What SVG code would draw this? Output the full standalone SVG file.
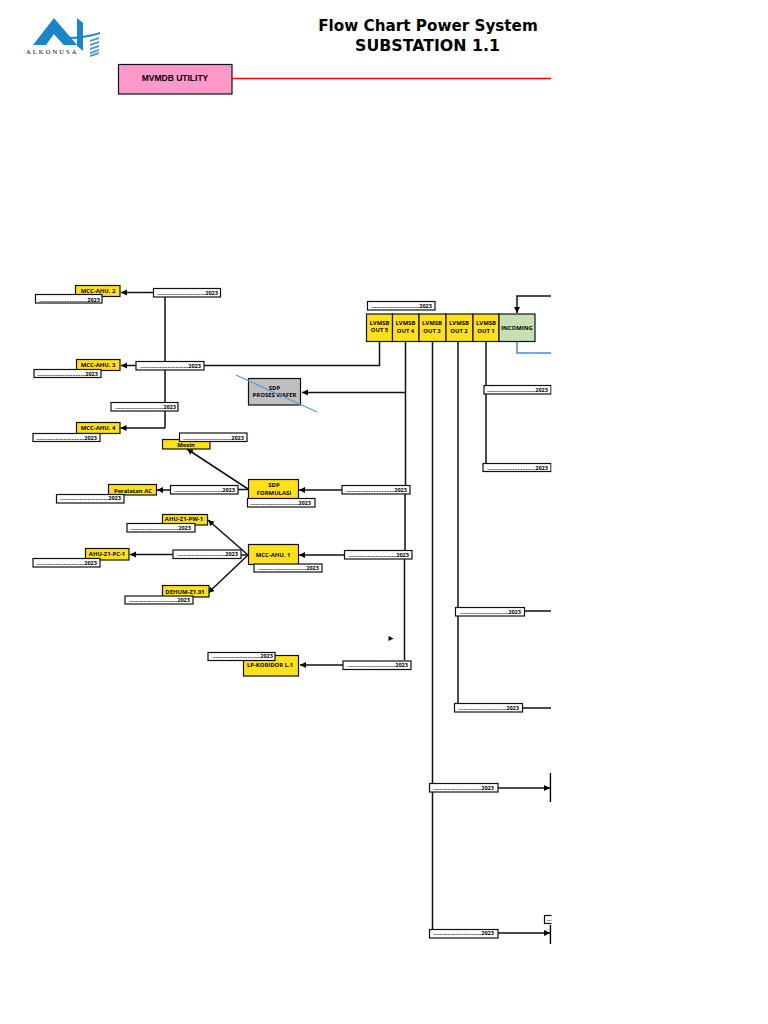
<svg xmlns="http://www.w3.org/2000/svg" width="768" height="1024" viewBox="0 0 768 1024">
<style>
.y{fill:#ffe01b;stroke:#111;stroke-width:1.200}
.d{fill:#fff;stroke:#111;stroke-width:1.200}
text{font-family:"Open Sans","Liberation Sans",sans-serif;font-weight:700;fill:#000}
.n{font-size:5.900px;text-anchor:middle}
.t{font-size:5.600px;text-anchor:end}
.c path{fill:none;stroke:#111;stroke-width:1.500}
.c path.a{marker-end:url(#ah)}
</style>
<defs>
<marker id="ah" markerUnits="userSpaceOnUse" markerWidth="7" markerHeight="7" refX="6" refY="3" orient="auto"><path d="M0 0L6 3L0 6Z" fill="#000"/></marker>
</defs>
<rect width="768" height="1024" fill="#fff"/>
<g id="logo">
<path d="M33 45L54 18L77 45L64 45L54 34L46 45Z" fill="#1b86c7"/>
<path d="M54 34L58 30L77 45L64 45Z" fill="#1b86c7"/>
<path d="M77 18L83 23L83 51L77 46Z" fill="#1b86c7"/>
<path d="M66 37Q85 37 100 32L100 34Q85 39 66 39Z" fill="#1b86c7"/>
<path d="M90 40L99 37V39L90 42Z M90 44L99 41V43L90 46Z M90 48L99 45V47L90 50Z M90 52L99 49V51L90 54Z M90 55L99 52V54L90 57Z" fill="#4b9bd0"/>
<text x="26" y="54" style="font-family:'Liberation Serif',serif;font-weight:400;font-size:6.500px;letter-spacing:2.100px">ALKONUSA</text>
</g>
<g id="title">
<text x="428" y="31" text-anchor="middle" style="font-family:'DejaVu Sans',sans-serif;font-size:15.200px">Flow Chart Power System</text>
<text x="427.500" y="51" text-anchor="middle" style="font-family:'DejaVu Sans',sans-serif;font-size:15.800px">SUBSTATION 1.1</text>
</g>
<g class="c" id="connectors">
<path d="M232 78.500H551" style="stroke:#f00"/>
<path d="M153 292.500H121" class="a"/>
<path d="M165 297V361M165 370V402M165 411V428"/>
<path d="M165 428H120.500" class="a"/>
<path d="M136 365.500H121" class="a"/>
<path d="M204 365.500H379.500V342"/>
<path d="M405.500 342V485M405 494V550M404.500 559V660"/>
<path d="M405 392.500H302" class="a"/>
<path d="M342 490H299" class="a"/>
<path d="M344 555H299" class="a"/>
<path d="M343 665H300" class="a"/>
<path d="M248 489.500H238M170 490H157" class="a"/>
<path d="M248 489L187 449" class="a"/>
<path d="M248 555L208 520" class="a"/>
<path d="M248 555L208 593" class="a"/>
<path d="M248 555H241M173 554.500H130" class="a"/>
<path d="M432.500 342V783M432.500 792V929"/>
<path d="M458 342V607M458 616V703"/>
<path d="M486 342V385M486 394V463"/>
<path d="M525 611H551M522 708H551"/>
<path d="M498 788H550" class="a"/>
<path d="M498 933H550" class="a"/>
<path d="M551 296H517V313" class="a"/>
<path d="M517 342V353H551" style="stroke:#4f86d8;stroke-width:1.500"/>
<path d="M550.500 773V802M550.500 925V944" style="stroke:#000"/>
</g>
<g id="mvmdb"><rect x="118.500" y="64.500" width="113.500" height="29.500" fill="#ff99cc" stroke="#111" stroke-width="1.200"/><text x="175" y="81" text-anchor="middle" style="font-family:'Liberation Sans',sans-serif;font-size:8.500px">MVMDB UTILITY</text></g>
<g id="mcc-ahu-2"><rect class="y" x="75.500" y="285.500" width="44.500" height="11"/><text class="n" x="98" y="292.500">MCC-AHU. 2</text></g>
<g id="mcc-ahu-3"><rect class="y" x="76.500" y="359.500" width="43.500" height="11"/><text class="n" x="98" y="366.500">MCC-AHU. 3</text></g>
<g id="mcc-ahu-4"><rect class="y" x="76.500" y="422.500" width="43.500" height="11"/><text class="n" x="98" y="429.500">MCC-AHU. 4</text></g>
<g id="mesin"><rect class="y" x="162.500" y="439.500" width="47.500" height="9.500"/><text class="n" x="186" y="446.500">Mesin</text></g>
<g id="peralatan-ac"><rect class="y" x="108.500" y="484.500" width="48" height="10.500"/><text class="n" x="133" y="492.500">Peralatan AC</text></g>
<g id="sdp-proses"><rect x="248.500" y="378.500" width="52" height="26.500" fill="#bfbfbf" stroke="#111" stroke-width="1.200"/><text class="n" x="274.500" y="389.500">SDP</text><text class="n" x="274.500" y="397">PROSES WAFER</text></g>
<g id="sdp-formulasi"><rect class="y" x="248.500" y="479.500" width="50" height="20"/><text class="n" x="274" y="487">SDP</text><text class="n" x="274" y="495">FORMULASI</text></g>
<g id="mcc-ahu-1"><rect class="y" x="248.500" y="544.500" width="50" height="20"/><text class="n" x="273" y="556.500">MCC-AHU. 1</text></g>
<g id="ahu-pw"><rect class="y" x="162.500" y="514.500" width="45" height="10.500"/><text class="n" x="184" y="521">AHU-Z1-PW-1</text></g>
<g id="ahu-pc"><rect class="y" x="85.500" y="548.500" width="43.500" height="11.500"/><text class="n" x="107" y="556">AHU-Z1-PC-1</text></g>
<g id="dehum"><rect class="y" x="162.500" y="585.500" width="46.500" height="11.500"/><text class="n" x="185" y="593.500">DEHUM-Z1.01</text></g>
<g id="lp-koridor"><rect class="y" x="243.500" y="655.500" width="55" height="20.500"/><text class="n" x="270" y="666.500">LP-KORIDOR L.1</text></g>
<g id="lvmsb-5"><rect class="y" x="366.500" y="314" width="26" height="27.500"/><text class="n" x="379.500" y="325">LVMSB</text><text class="n" x="379.500" y="332">OUT 5</text></g>
<g id="lvmsb-4"><rect class="y" x="392.500" y="314" width="26.500" height="27.500"/><text class="n" x="405.500" y="325">LVMSB</text><text class="n" x="405.500" y="333">OUT 4</text></g>
<g id="lvmsb-3"><rect class="y" x="419" y="314" width="27" height="27.500"/><text class="n" x="432" y="325">LVMSB</text><text class="n" x="432" y="333">OUT 3</text></g>
<g id="lvmsb-2"><rect class="y" x="446" y="314" width="27" height="27.500"/><text class="n" x="459" y="325">LVMSB</text><text class="n" x="459" y="333">OUT 2</text></g>
<g id="lvmsb-1"><rect class="y" x="473" y="314" width="26" height="27.500"/><text class="n" x="486" y="325">LVMSB</text><text class="n" x="486" y="333">OUT 1</text></g>
<g id="incoming"><rect x="499" y="314" width="36" height="27.500" fill="#c6e0b4" stroke="#111" stroke-width="1.200"/><text class="n" x="517" y="329.500">INCOMING</text></g>
<g id="dates">
<g id="d1"><rect class="d" x="153.500" y="288.500" width="67" height="8.500"/><text class="t" x="218" y="294.500">..............................2023</text></g>
<g id="d2"><rect class="d" x="35.500" y="294.500" width="66.500" height="8.500"/><text class="t" x="100" y="301.500">..............................2023</text></g>
<g id="d3"><rect class="d" x="136" y="361.500" width="68" height="8.500"/><text class="t" x="201" y="367.500">..............................2023</text></g>
<g id="d4"><rect class="d" x="34" y="369.500" width="67" height="8"/><text class="t" x="98" y="376">..............................2023</text></g>
<g id="d5"><rect class="d" x="111" y="402.500" width="67" height="8.500"/><text class="t" x="176" y="408.500">..............................2023</text></g>
<g id="d6"><rect class="d" x="33" y="433.500" width="67" height="8"/><text class="t" x="97" y="439.500">..............................2023</text></g>
<g id="d7"><rect class="d" x="179.500" y="433" width="67.500" height="8.500"/><text class="t" x="244" y="439.500">..............................2023</text></g>
<g id="d8"><rect class="d" x="367.500" y="301.500" width="67.500" height="8.500"/><text class="t" x="432" y="307.500">..............................2023</text></g>
<g id="d9"><rect class="d" x="484" y="385.500" width="67" height="8.500"/><text class="t" x="548" y="391.500">..............................2023</text></g>
<g id="d10"><rect class="d" x="483" y="463.500" width="68" height="8"/><text class="t" x="548" y="469.500">..............................2023</text></g>
<g id="d11"><rect class="d" x="342" y="485.500" width="68" height="8.500"/><text class="t" x="407" y="491.500">..............................2023</text></g>
<g id="d12"><rect class="d" x="170.500" y="485.500" width="67.500" height="8.500"/><text class="t" x="235" y="491.500">..............................2023</text></g>
<g id="d13"><rect class="d" x="247.500" y="498.500" width="67.500" height="8.500"/><text class="t" x="311" y="504.500">..............................2023</text></g>
<g id="d14"><rect class="d" x="56.500" y="494.500" width="67.500" height="8.500"/><text class="t" x="121" y="500">..............................2023</text></g>
<g id="d15"><rect class="d" x="127" y="523.500" width="68" height="8.500"/><text class="t" x="191" y="529.500">..............................2023</text></g>
<g id="d16"><rect class="d" x="344.500" y="550.500" width="67.500" height="8.500"/><text class="t" x="409" y="556.500">..............................2023</text></g>
<g id="d17"><rect class="d" x="173" y="550" width="68" height="8.500"/><text class="t" x="238" y="556">..............................2023</text></g>
<g id="d18"><rect class="d" x="254" y="564" width="68" height="8"/><text class="t" x="319" y="570">..............................2023</text></g>
<g id="d19"><rect class="d" x="33" y="558.500" width="67" height="8.500"/><text class="t" x="97" y="564.500">..............................2023</text></g>
<g id="d20"><rect class="d" x="125" y="596" width="68" height="8"/><text class="t" x="190" y="601.500">..............................2023</text></g>
<g id="d21"><rect class="d" x="208" y="652.500" width="67" height="8"/><text class="t" x="273" y="658">..............................2023</text></g>
<g id="d22"><rect class="d" x="343" y="661" width="68" height="8.500"/><text class="t" x="408" y="667">..............................2023</text></g>
<g id="d23"><rect class="d" x="455.500" y="607.500" width="69" height="8.500"/><text class="t" x="521" y="613.500">..............................2023</text></g>
<g id="d24"><rect class="d" x="454.500" y="703.500" width="68" height="8.500"/><text class="t" x="519" y="709.500">..............................2023</text></g>
<g id="d25"><rect class="d" x="429.500" y="783.500" width="68.500" height="8.500"/><text class="t" x="494" y="789.500">..............................2023</text></g>
<g id="d26"><rect class="d" x="429.500" y="929.500" width="68.500" height="8.500"/><text class="t" x="494" y="935">..............................2023</text></g>
<g id="d27"><rect class="d" x="544.500" y="915.500" width="8" height="8"/><text x="547" y="921" style="font-size:5.400px">...</text></g>
</g>
<path id="strike" d="M236 375L317 412" stroke="#5b9bd5" stroke-width="1.300" fill="none"/>
<path id="marker-tri" d="M388.500 636L393.500 638.500L388.500 641Z" fill="#000"/>
<rect id="page-cut" x="551.500" y="0" width="217" height="1024" fill="#fff"/>
</svg>
